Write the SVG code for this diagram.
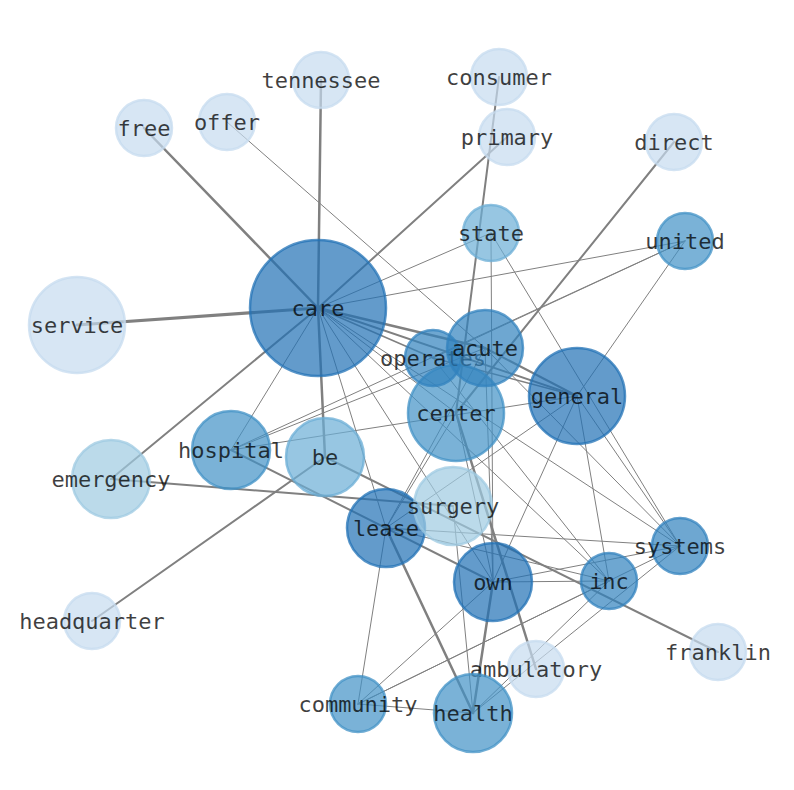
<svg xmlns="http://www.w3.org/2000/svg" width="794" height="790" viewBox="0 0 794 790">
<style>
.e{stroke:#808080;fill:none;stroke-linecap:round}
.w1{stroke-width:1}
.w15{stroke-width:1.5}
.w2{stroke-width:2}
.w25{stroke-width:2.5}
.w3{stroke-width:3}
.n circle{fill-opacity:0.7;stroke-opacity:0.75;stroke-width:2.5}
.c1 circle{fill:#2171b5;stroke:#2171b5}
.c2 circle{fill:#3182bd;stroke:#3182bd}
.c3 circle{fill:#4292c6;stroke:#4292c6}
.c4 circle{fill:#6baed6;stroke:#6baed6}
.c5 circle{fill:#9ecae1;stroke:#9ecae1}
.c6 circle{fill:#c6dbef;stroke:#c6dbef}
.n text{font-family:"DejaVu Sans Mono","Liberation Mono",monospace;font-size:22px;fill:#000;fill-opacity:0.75;text-anchor:middle;dominant-baseline:central}
</style>
<rect width="794" height="790" fill="#fff"/>
<g id="edges">
<line class="e w3" x1="318" y1="308" x2="77" y2="325"/>
<line class="e w25" x1="318" y1="308" x2="144" y2="128"/>
<line class="e w25" x1="318" y1="308" x2="321" y2="80"/>
<line class="e w2" x1="318" y1="308" x2="507" y2="137"/>
<line class="e w2" x1="318" y1="308" x2="111" y2="479"/>
<line class="e w25" x1="318" y1="308" x2="325" y2="457"/>
<line class="e w25" x1="318" y1="308" x2="485" y2="348"/>
<line class="e w2" x1="318" y1="308" x2="577" y2="396"/>
<line class="e w15" x1="318" y1="308" x2="433" y2="358"/>
<line class="e w1" x1="318" y1="308" x2="231" y2="450"/>
<line class="e w1" x1="318" y1="308" x2="491" y2="233"/>
<line class="e w1" x1="318" y1="308" x2="685" y2="241"/>
<line class="e w1" x1="318" y1="308" x2="456" y2="413"/>
<line class="e w1" x1="318" y1="308" x2="386" y2="528"/>
<line class="e w1" x1="318" y1="308" x2="609" y2="581"/>
<line class="e w1" x1="318" y1="308" x2="493" y2="582"/>
<line class="e w1" x1="318" y1="308" x2="680" y2="546"/>
<line class="e w2" x1="499" y1="77" x2="456" y2="413"/>
<line class="e w2" x1="674" y1="142" x2="456" y2="413"/>
<line class="e w1" x1="227" y1="122" x2="485" y2="348"/>
<line class="e w1" x1="491" y1="233" x2="493" y2="582"/>
<line class="e w1" x1="491" y1="233" x2="680" y2="546"/>
<line class="e w1" x1="231" y1="450" x2="685" y2="241"/>
<line class="e w1" x1="231" y1="450" x2="485" y2="348"/>
<line class="e w1" x1="231" y1="450" x2="577" y2="396"/>
<line class="e w2" x1="231" y1="450" x2="493" y2="582"/>
<line class="e w2" x1="325" y1="457" x2="92" y2="621"/>
<line class="e w2" x1="325" y1="457" x2="718" y2="652"/>
<line class="e w2" x1="111" y1="479" x2="453" y2="506"/>
<line class="e w1" x1="433" y1="358" x2="685" y2="241"/>
<line class="e w1" x1="577" y1="396" x2="685" y2="241"/>
<line class="e w2" x1="485" y1="348" x2="577" y2="396"/>
<line class="e w15" x1="433" y1="358" x2="577" y2="396"/>
<line class="e w1" x1="485" y1="348" x2="680" y2="546"/>
<line class="e w1" x1="433" y1="358" x2="609" y2="581"/>
<line class="e w1" x1="485" y1="348" x2="493" y2="582"/>
<line class="e w1" x1="485" y1="348" x2="386" y2="528"/>
<line class="e w1" x1="577" y1="396" x2="493" y2="582"/>
<line class="e w1" x1="577" y1="396" x2="609" y2="581"/>
<line class="e w1" x1="577" y1="396" x2="680" y2="546"/>
<line class="e w1" x1="577" y1="396" x2="386" y2="528"/>
<line class="e w25" x1="456" y1="413" x2="536" y2="669"/>
<line class="e w1" x1="456" y1="413" x2="386" y2="528"/>
<line class="e w1" x1="456" y1="413" x2="493" y2="582"/>
<line class="e w25" x1="386" y1="528" x2="473" y2="713"/>
<line class="e w25" x1="493" y1="582" x2="473" y2="713"/>
<line class="e w1" x1="386" y1="528" x2="680" y2="546"/>
<line class="e w1" x1="386" y1="528" x2="609" y2="581"/>
<line class="e w1" x1="493" y1="582" x2="609" y2="581"/>
<line class="e w1" x1="493" y1="582" x2="680" y2="546"/>
<line class="e w1" x1="358" y1="704" x2="386" y2="528"/>
<line class="e w1" x1="358" y1="704" x2="493" y2="582"/>
<line class="e w1" x1="358" y1="704" x2="473" y2="713"/>
<line class="e w1" x1="358" y1="704" x2="609" y2="581"/>
<line class="e w1" x1="358" y1="704" x2="680" y2="546"/>
<line class="e w1" x1="473" y1="713" x2="609" y2="581"/>
<line class="e w1" x1="473" y1="713" x2="680" y2="546"/>
<line class="e w1" x1="473" y1="713" x2="453" y2="506"/>
</g>
<g id="service" class="n c6"><circle cx="77" cy="325" r="48"/><text x="77" y="325">service</text></g>
<g id="free" class="n c6"><circle cx="144" cy="128" r="28"/><text x="144" y="128">free</text></g>
<g id="offer" class="n c6"><circle cx="227" cy="122" r="28"/><text x="227" y="122">offer</text></g>
<g id="tennessee" class="n c6"><circle cx="321" cy="80" r="28"/><text x="321" y="80">tennessee</text></g>
<g id="consumer" class="n c6"><circle cx="499" cy="77" r="28"/><text x="499" y="77">consumer</text></g>
<g id="primary" class="n c6"><circle cx="507" cy="137" r="28"/><text x="507" y="137">primary</text></g>
<g id="direct" class="n c6"><circle cx="674" cy="142" r="28"/><text x="674" y="142">direct</text></g>
<g id="headquarter" class="n c6"><circle cx="92" cy="621" r="28"/><text x="92" y="621">headquarter</text></g>
<g id="franklin" class="n c6"><circle cx="718" cy="652" r="28"/><text x="718" y="652">franklin</text></g>
<g id="ambulatory" class="n c6"><circle cx="536" cy="669" r="28"/><text x="536" y="669">ambulatory</text></g>
<g id="emergency" class="n c5"><circle cx="111" cy="479" r="39"/><text x="111" y="479">emergency</text></g>
<g id="state" class="n c4"><circle cx="491" cy="233" r="28"/><text x="491" y="233">state</text></g>
<g id="united" class="n c3"><circle cx="685" cy="241" r="28"/><text x="685" y="241">united</text></g>
<g id="care" class="n c1"><circle cx="318" cy="308" r="68"/><text x="318" y="308">care</text></g>
<g id="center" class="n c3"><circle cx="456" cy="413" r="48"/><text x="456" y="413">center</text></g>
<g id="operates" class="n c2"><circle cx="433" cy="358" r="28"/><text x="433" y="358">operates</text></g>
<g id="acute" class="n c2"><circle cx="485" cy="348" r="38"/><text x="485" y="348">acute</text></g>
<g id="general" class="n c1"><circle cx="577" cy="396" r="48"/><text x="577" y="396">general</text></g>
<g id="hospital" class="n c3"><circle cx="231" cy="450" r="39"/><text x="231" y="450">hospital</text></g>
<g id="be" class="n c4"><circle cx="325" cy="457" r="39"/><text x="325" y="457">be</text></g>
<g id="lease" class="n c1"><circle cx="386" cy="528" r="39"/><text x="386" y="528">lease</text></g>
<g id="surgery" class="n c5"><circle cx="453" cy="506" r="39"/><text x="453" y="506">surgery</text></g>
<g id="own" class="n c1"><circle cx="493" cy="582" r="39"/><text x="493" y="582">own</text></g>
<g id="inc" class="n c2"><circle cx="609" cy="581" r="28"/><text x="609" y="581">inc</text></g>
<g id="systems" class="n c2"><circle cx="680" cy="546" r="28"/><text x="680" y="546">systems</text></g>
<g id="community" class="n c3"><circle cx="358" cy="704" r="28"/><text x="358" y="704">community</text></g>
<g id="health" class="n c3"><circle cx="473" cy="713" r="39"/><text x="473" y="713">health</text></g>
</svg>
